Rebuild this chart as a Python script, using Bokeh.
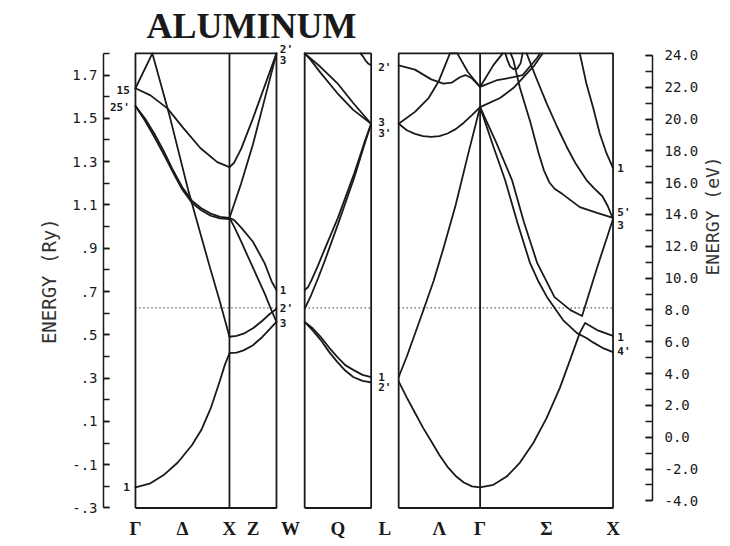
import numpy as np
from bokeh.plotting import figure
from bokeh.models import (Range1d, LinearAxis, FixedTicker, CustomJSTickFormatter,
                          PrintfTickFormatter)
from bokeh.embed import file_html
from bokeh.resources import INLINE
from bokeh.core.properties import value

# ------------------------------------------------------------------
# DATA  (energies in Ry; t = fraction along the k-path segment)
# ------------------------------------------------------------------
E_FERMI = 0.624

# Gamma - Delta - X
delta_bands = [
    ([0, 0.15, 0.3, 0.45, 0.6, 0.7, 0.8, 0.9, 0.95, 1.0],
     [-0.205, -0.188, -0.148, -0.09, -0.01, 0.06, 0.16, 0.29, 0.36, 0.415]),
    ([0, 0.18, 0.37, 0.56, 0.78, 0.9, 1.0],
     [1.639, 1.815, 1.50, 1.17, 0.83, 0.65, 0.491]),
    ([0, 0.16, 0.34, 0.51, 0.69, 0.87, 1.0],
     [1.639, 1.606, 1.546, 1.455, 1.363, 1.298, 1.275]),
    ([0, 0.1, 0.2, 0.3, 0.4, 0.5, 0.6, 0.7, 0.8, 0.9, 1.0],
     [1.557, 1.50, 1.43, 1.35, 1.26, 1.18, 1.12, 1.085, 1.06, 1.045, 1.04]),
    ([0, 0.1, 0.2, 0.3, 0.4, 0.5, 0.6, 0.7, 0.8, 0.9, 1.0],
     [1.557, 1.49, 1.415, 1.335, 1.25, 1.17, 1.11, 1.075, 1.05, 1.038, 1.035]),
]

# X - Z - W
z_bands = [
    ([0, 0.15, 0.3, 0.5, 0.7, 0.85, 1.0], [0.415, 0.418, 0.428, 0.452, 0.49, 0.525, 0.56]),
    ([0, 0.15, 0.3, 0.5, 0.7, 0.85, 1.0], [0.491, 0.495, 0.505, 0.53, 0.565, 0.595, 0.62]),
    ([0, 0.1, 0.25, 0.5, 0.75, 0.9, 1.0], [1.04, 1.0, 0.93, 0.81, 0.69, 0.61, 0.56]),
    ([0, 0.1, 0.25, 0.5, 0.75, 0.9, 1.0], [1.04, 1.03, 0.995, 0.93, 0.83, 0.745, 0.707]),
    ([0, 0.25, 0.5, 0.75, 1.0], [1.04, 1.2, 1.38, 1.59, 1.8]),
    ([0, 0.1, 0.25, 0.5, 0.75, 1.0], [1.275, 1.295, 1.36, 1.5, 1.65, 1.8]),
]

# W - Q - L
q_bands = [
    ([0, 0.24, 0.49, 0.73, 1.0], [1.8, 1.737, 1.663, 1.571, 1.475]),
    ([0, 0.09, 0.24, 0.49, 0.73, 1.0], [1.8, 1.77, 1.71, 1.617, 1.539, 1.475]),
    ([0, 0.05, 0.1, 0.2, 0.3, 0.5, 0.75, 0.9, 1.0],
     [0.707, 0.72, 0.75, 0.82, 0.895, 1.04, 1.25, 1.39, 1.475]),
    ([0, 0.1, 0.2, 0.3, 0.5, 0.75, 0.9, 1.0],
     [0.62, 0.685, 0.76, 0.84, 1.01, 1.23, 1.38, 1.475]),
    ([0, 0.12, 0.24, 0.37, 0.49, 0.61, 0.73, 0.87, 1.0],
     [0.56, 0.53, 0.491, 0.44, 0.398, 0.36, 0.338, 0.315, 0.305]),
    ([0, 0.12, 0.24, 0.37, 0.49, 0.61, 0.73, 0.87, 1.0],
     [0.56, 0.52, 0.477, 0.42, 0.375, 0.335, 0.305, 0.287, 0.28]),
    ([0.84, 0.88, 0.92, 0.96, 1.0], [1.81, 1.785, 1.765, 1.752, 1.745]),
]

# L - Lambda - Gamma
lambda_bands = [
    ([0, 0.1, 0.2, 0.3, 0.4, 0.5, 0.6, 0.7, 0.8, 0.9, 1.0],
     [0.285, 0.21, 0.14, 0.07, 0.008, -0.055, -0.11, -0.152, -0.182, -0.2, -0.205]),
    ([0, 0.1, 0.2, 0.3, 0.43, 0.55, 0.7, 0.85, 1.0],
     [0.305, 0.40, 0.505, 0.61, 0.75, 0.9, 1.1, 1.33, 1.552]),
    ([0, 0.2, 0.37, 0.49, 0.63, 0.68, 0.72, 0.85, 1.0],
     [1.475, 1.53, 1.595, 1.67, 1.80, 1.815, 1.80, 1.714, 1.645]),
    ([0, 0.1, 0.2, 0.3, 0.4, 0.5, 0.6, 0.7, 0.8, 0.9, 1.0],
     [1.475, 1.445, 1.428, 1.418, 1.414, 1.418, 1.43, 1.45, 1.48, 1.515, 1.552]),
    ([0, 0.2, 0.4, 0.55, 0.65, 0.75, 0.82, 0.9, 1.0],
     [1.745, 1.725, 1.68, 1.66, 1.665, 1.69, 1.70, 1.685, 1.645]),
]

# Gamma - Sigma - X
sigma_bands = [
    ([0, 0.1, 0.2, 0.3, 0.4, 0.5, 0.6, 0.677, 0.75, 0.79, 0.88, 1.0],
     [-0.205, -0.193, -0.155, -0.09, 0.0, 0.115, 0.255, 0.384, 0.509, 0.555, 0.522, 0.495]),
    ([0, 0.094, 0.188, 0.28, 0.376, 0.44, 0.504, 0.624, 0.729, 0.8, 0.85, 0.92, 1.0],
     [1.552, 1.38, 1.215, 1.02, 0.831, 0.745, 0.674, 0.568, 0.508, 0.485, 0.465, 0.44, 0.42]),
    ([0, 0.12, 0.24, 0.33, 0.43, 0.56, 0.68, 0.767, 0.88, 1.0],
     [1.552, 1.39, 1.215, 1.02, 0.831, 0.674, 0.614, 0.587, 0.81, 1.035]),
    ([0.35, 0.42, 0.5, 0.58, 0.65, 0.72, 0.8, 0.86, 0.92, 0.96, 1.0],
     [1.8, 1.69, 1.57, 1.46, 1.37, 1.29, 1.215, 1.175, 1.14, 1.095, 1.035]),
    ([0.23, 0.25, 0.3, 0.38, 0.44, 0.48, 0.52, 0.56, 0.62, 0.75, 0.88, 1.0],
     [1.8, 1.77, 1.64, 1.478, 1.34, 1.26, 1.205, 1.175, 1.15, 1.09, 1.063, 1.04]),
    ([0.75, 0.8, 0.85, 0.9, 0.95, 1.0], [1.8, 1.66, 1.55, 1.43, 1.34, 1.27]),
    ([0, 0.1, 0.17], [1.645, 1.746, 1.8]),
    ([0, 0.13, 0.25, 0.32, 0.43, 0.45], [1.645, 1.677, 1.69, 1.70, 1.78, 1.80]),
    ([0, 0.15, 0.25, 0.32, 0.41, 0.47], [1.552, 1.594, 1.64, 1.686, 1.746, 1.80]),
    ([0.19, 0.205, 0.225, 0.25, 0.28, 0.305, 0.32], [1.8, 1.77, 1.74, 1.728, 1.73, 1.755, 1.8]),
]

# symmetry-point labels: (text, energy level of the label)
left_gamma_labels = [("15", 1.632), ("25'", 1.55), ("1", -0.205)]
w_gap_labels = [("2'", 1.82), ("3", 1.77), ("1", 0.707), ("2'", 0.62), ("3", 0.555)]
l_gap_labels = [("2'", 1.737), ("3", 1.483), ("3'", 1.432), ("1", 0.305), ("2'", 0.255)]
x_right_labels = [("1", 1.27), ("5'", 1.067), ("3", 1.007), ("1", 0.49), ("4'", 0.421)]

# tick values
RY_MAJOR = [-0.3, -0.1, 0.1, 0.3, 0.5, 0.7, 0.9, 1.1, 1.3, 1.5, 1.7]
RY_MINOR = [round(-0.3 + 0.1 * i, 1) for i in range(22)]
EV_MAJOR = list(range(-4, 25, 2))
EV_MINOR = list(range(-4, 25, 1))
RY_TO_EV = 13.6057
EV_ZERO_RY = 0.027

# ------------------------------------------------------------------
# LAYOUT (k-path positions in units of 2*pi/a, panels separated by gaps)
# ------------------------------------------------------------------
G1, X1, W1 = 0.0, 1.0, 1.5
W2 = 1.80
L2 = W2 + 0.7071
L3 = 2.80
G3 = L3 + 0.8660
X3 = G3 + 1.4142
XMIN, XMAX = -0.34, 5.50
YMIN, YMAX = -0.307, 1.855

sym_ticks = [G1, 0.5, X1, 1.25, 1.65, round((W2 + L2) / 2, 4), 2.653,
             round((L3 + G3) / 2, 4), G3, round((G3 + X3) / 2, 4), X3]
sym_names = ["Γ", "Δ", "X", "Z", "W", "Q", "L", "Λ", "Γ", "Σ", "X"]

p = figure(frame_width=549, frame_height=468, output_backend="svg", toolbar_location=None,
           x_range=Range1d(XMIN, XMAX), y_range=Range1d(YMIN, YMAX),
           min_border_left=103, min_border_right=78, min_border_top=41,
           min_border_bottom=34)
p.outline_line_color = None
p.xgrid.visible = False
p.ygrid.visible = False
p.background_fill_color = "white"
p.border_fill_color = "white"

INK = "#1a1a1a"

p.title.text = "ALUMINUM"
p.title.align = "left"
p.title.offset = 43
p.title.standoff = -8
p.title.text_font = "Liberation Serif"
p.title.text_font_style = "bold"
p.title.text_font_size = "36px"
p.title.text_color = INK

def seg(bands, a, b):
    xs, ys = [], []
    for t, e in bands:
        t = np.asarray(t, float)
        xs.append(list(a + t * (b - a)))
        ys.append(list(np.clip(np.asarray(e, float), None, 1.8)))
    return xs, ys

allx, ally = [], []
for bands, a, b in [(delta_bands, G1, X1), (z_bands, X1, W1), (q_bands, W2, L2),
                    (lambda_bands, L3, G3), (sigma_bands, G3, X3)]:
    xs, ys = seg(bands, a, b)
    allx += xs
    ally += ys
p.multi_line(allx, ally, line_color=INK, line_width=1.8, line_join="round", line_cap="round")

# panel frames and inner symmetry lines
fx = [[G1, W1, W1, G1, G1], [W2, L2, L2, W2, W2], [L3, X3, X3, L3, L3], [X1, X1], [G3, G3]]
fy = [[-0.3, -0.3, 1.8, 1.8, -0.3]] * 3 + [[-0.3, 1.8], [-0.3, 1.8]]
p.multi_line(fx, fy, line_color=INK, line_width=1.8)

# Fermi level
p.multi_line([[G1, W1], [W2, L2], [L3, X3]], [[E_FERMI] * 2] * 3,
             line_color=INK, line_width=1.3, line_dash="1 3")

# small symmetry labels
lab_font = value("DejaVu Sans Mono")
def put(labels, x, align):
    p.text([x] * len(labels), [e for _, e in labels], [s for s, _ in labels],
           text_font=lab_font, text_font_size="11px", text_font_style="bold",
           text_color=INK, text_align=align, text_baseline="middle")
put(left_gamma_labels, G1 - 0.06, "right")
put(w_gap_labels, W1 + 0.035, "left")
put(l_gap_labels, L2 + 0.075, "left")
put(x_right_labels, X3 + 0.045, "left")

# left axis (Ry)
ax = p.yaxis[0]
ax.ticker = FixedTicker(ticks=RY_MAJOR, minor_ticks=RY_MINOR)
ax.formatter = CustomJSTickFormatter(code="""
    var s = tick.toFixed(1);
    return s.replace(/^(-?)0\\./, '$1.');
""")
ax.bounds = (-0.3, 1.8)
ax.major_tick_in = 6
ax.major_tick_out = 0
ax.minor_tick_in = 6
ax.minor_tick_out = 0
ax.axis_line_width = 1.5
ax.major_tick_line_width = 1.5
ax.minor_tick_line_width = 1.5
ax.axis_line_color = INK
ax.major_tick_line_color = INK
ax.minor_tick_line_color = INK
ax.major_label_text_font = "DejaVu Sans Mono"
ax.major_label_text_font_size = "14px"
ax.major_label_text_color = INK
ax.major_label_standoff = 6
ax.axis_label = "ENERGY  (Ry)"
ax.axis_label_text_font = "DejaVu Sans Mono"
ax.axis_label_text_font_style = "normal"
ax.axis_label_text_font_size = "19px"
ax.axis_label_text_color = "#333333"
ax.axis_label_standoff = 9

# right axis (eV)
p.extra_y_ranges = {"ev": Range1d((YMIN - EV_ZERO_RY) * RY_TO_EV, (YMAX - EV_ZERO_RY) * RY_TO_EV)}
rax = LinearAxis(y_range_name="ev", ticker=FixedTicker(ticks=EV_MAJOR, minor_ticks=EV_MINOR),
                 formatter=PrintfTickFormatter(format="%.1f"), bounds=(-4, 24))
rax.major_tick_in = 7
rax.major_tick_out = 0
rax.minor_tick_in = 7
rax.minor_tick_out = 0
rax.axis_line_width = 1.5
rax.major_tick_line_width = 1.5
rax.minor_tick_line_width = 1.5
rax.axis_line_color = INK
rax.major_tick_line_color = INK
rax.minor_tick_line_color = INK
rax.major_label_text_font = "DejaVu Sans Mono"
rax.major_label_text_font_size = "14px"
rax.major_label_text_color = INK
rax.major_label_standoff = 12
rax.axis_label = "ENERGY  (eV)"
rax.axis_label_text_font = "DejaVu Sans Mono"
rax.axis_label_text_font_style = "normal"
rax.axis_label_text_font_size = "18px"
rax.axis_label_text_color = "#333333"
rax.axis_label_standoff = 11
if "axis_label_orientation" in rax.properties():
    rax.axis_label_orientation = np.pi / 2
p.add_layout(rax, "right")

# bottom symmetry-point axis
bx = p.xaxis[0]
bx.ticker = FixedTicker(ticks=sym_ticks)
bx.major_label_overrides = {t: n for t, n in zip(sym_ticks, sym_names)}
bx.axis_line_color = None
bx.major_tick_line_color = None
bx.minor_tick_line_color = None
bx.major_label_text_font = "Liberation Serif"
bx.major_label_text_font_style = "bold"
bx.major_label_text_font_size = "19px"
bx.major_label_text_color = INK
bx.major_label_standoff = 2

open("out.html", "w").write(file_html(p, INLINE))
